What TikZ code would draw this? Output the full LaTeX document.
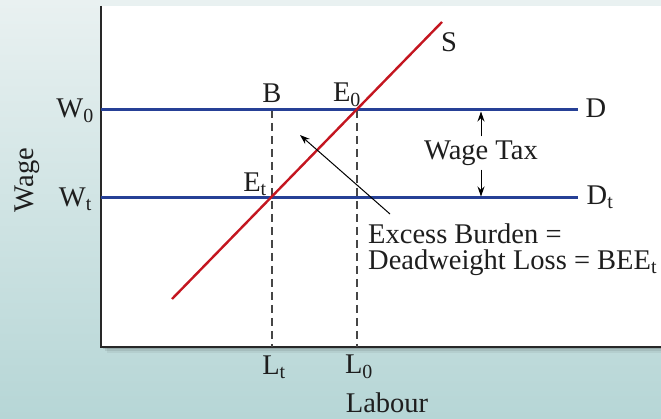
\documentclass[tikz,border=0pt]{standalone}
\usepackage{fontspec}
\setmainfont{Liberation Serif}
\usetikzlibrary{arrows.meta}
\definecolor{bgtop}{RGB}{233,241,241}
\definecolor{bgbot}{RGB}{182,214,214}
\definecolor{dblue}{RGB}{38,64,150}
\definecolor{sred}{RGB}{196,22,32}
\definecolor{axisc}{RGB}{40,40,40}
\definecolor{dashc}{RGB}{70,70,70}
\definecolor{txt}{RGB}{30,30,30}
\tikzset{
  lbl/.style={font=\fontsize{28.5}{31}\selectfont, text=txt, inner sep=0pt},
  curveD/.style={dblue, line width=3pt},
  curveS/.style={sred, line width=2.4pt},
  guide/.style={dashc, line width=1.2pt, dash pattern=on 8pt off 5pt},
  pointer/.style={black, line width=1pt, -{Stealth[length=10pt,width=7pt]}}
}
\begin{document}
\begin{tikzpicture}[x=1pt,y=-1pt]
\useasboundingbox (0,0) rectangle (661,419);
\shade[top color=bgtop, bottom color=bgbot] (0,0) rectangle (661,419);
% shadow
\foreach \o/\a in {6/0.05,4/0.08,2/0.12}{
  \fill[black, opacity=\a] (101+\o,6+\o) rectangle (661,347+\o);
}
\fill[white] (101,6) rectangle (661,347);
\draw[axisc, line width=1.6pt] (101,6) -- (101,347) -- (661,347);
% coordinates
\coordinate (w0l) at (101,110);
\coordinate (w0r) at (578,110);
\coordinate (wtl) at (101,198);
\coordinate (wtr) at (578,198);
\coordinate (s0) at (172,299);
\coordinate (s1) at (442,22);
\coordinate (B) at (272,110);
\coordinate (E0) at (357,110);
\coordinate (Et) at (272,198);
\coordinate (Lt) at (272,347);
\coordinate (L0) at (357,347);
% dashed guides
\draw[guide] (B) -- (Lt);
\draw[guide] (E0) -- (L0);
% demand lines
\draw[curveD] (w0l) -- (w0r);
\draw[curveD] (wtl) -- (wtr);
% supply
\draw[curveS] (s0) -- (s1);
% pointer arrow
\coordinate (ptail) at (390,214);
\coordinate (phead) at (300,135);
\draw[pointer] (ptail) -- (phead);
% wage tax arrow
\node[lbl, inner ysep=4pt] (wt) at (481,153) {Wage Tax};
\coordinate (wtt) at (481,111.5);
\coordinate (wtb) at (481,196.5);
\draw[black, line width=1pt, -{Stealth[length=10pt,width=7pt]}] (wt.north) -- (wtt);
\draw[black, line width=1pt, -{Stealth[length=10pt,width=7pt]}] (wt.south) -- (wtb);
% labels
\node[lbl] (S) at (449,42) {S};
\node[lbl] (D) at (596,108) {D};
\node[lbl] (Dt) at (600,197) {D\textsubscript{t}};
\node[lbl] (Bl) at (272,93) {B};
\node[lbl] (E0l) at (347,95) {E\textsubscript{0}};
\node[lbl] (Etl) at (255,184) {E\textsubscript{t}};
\node[lbl, anchor=east] (W0) at (94,111) {W\textsubscript{0}};
\node[lbl, anchor=east] (Wt) at (92,199) {W\textsubscript{t}};
\node[lbl, rotate=90] (wage) at (27,180) {Wage};
\node[lbl] (Ltl) at (274,367) {L\textsubscript{t}};
\node[lbl] (L0l) at (359,367) {L\textsubscript{0}};
\node[lbl] (lab) at (387,403) {Labour};
\node[lbl, font=\fontsize{28.5}{26}\selectfont, anchor=north west, align=left] (eb) at (368,224) {Excess Burden =\\Deadweight Loss = BEE\textsubscript{t}};
\end{tikzpicture}
\end{document}
